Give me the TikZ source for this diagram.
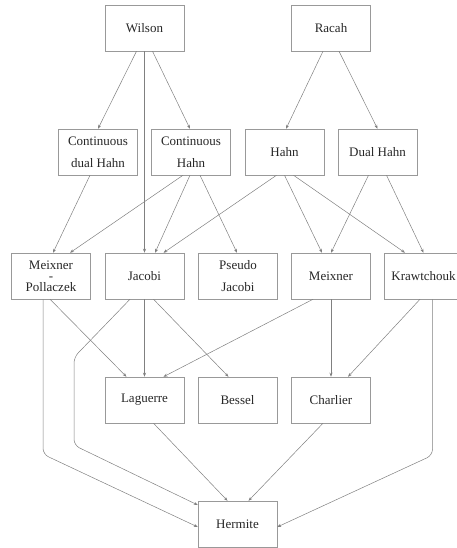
\documentclass[tikz,border=0pt]{standalone}
\usepackage{fontspec}
\setmainfont{Liberation Serif}
\usepackage{tikz}
\usetikzlibrary{arrows.meta}

\begin{document}
\begin{tikzpicture}[x=1pt,y=-1pt]
\tikzstyle{box}=[draw=black!40,line width=0.5pt,minimum width=79pt,minimum height=46pt,inner sep=2pt,align=center,text=black!85,font=\fontsize{13}{22}\selectfont]
\tikzstyle{edge}=[draw=black!50,line width=0.5pt,-{Stealth[length=4pt,width=3pt]}]
\useasboundingbox (0,0) rectangle (456,548);
\foreach \name/\point/\label in {
	wilson/{144.5,28}/Wilson,
	racah/{331,28}/Racah,
	cdhahn/{98,152}/{Continuous\\dual Hahn},
	chahn/{191,152}/{Continuous\\Hahn},
	hahn/{284.5,152}/Hahn,
	dhahn/{377.5,152}/{Dual Hahn},
	mp/{51,276}/{Meixner\\[-11pt]-\\[-11pt]Pollaczek},
	jacobi/{144.5,276}/Jacobi,
	pjacobi/{238,276}/{Pseudo\\Jacobi},
	meixner/{331,276}/Meixner,
	kraw/{423.5,276}/Krawtchouk,
	laguerre/{144.5,400}/Laguerre,
	bessel/{237.5,400}/Bessel,
	charlier/{331,400}/Charlier,
	hermite/{237.5,524}/Hermite}
	\node[box] (\name) at (\point) {\label};
% top row
\draw[edge] ([xshift=-8pt]wilson.south) -- (cdhahn.north);
\draw[edge] (wilson.south) -- (jacobi.north);
\draw[edge] ([xshift=8pt]wilson.south) -- ([xshift=-1pt]chahn.north);
\draw[edge] ([xshift=-8pt]racah.south) -- ([xshift=1.5pt]hahn.north);
\draw[edge] ([xshift=8pt]racah.south) -- (dhahn.north);
% second row
\draw[edge] ([xshift=-8pt]cdhahn.south) -- ([xshift=2pt]mp.north);
\draw[edge] ([xshift=-8pt]chahn.south) -- ([xshift=19pt]mp.north);
\draw[edge] ([xshift=-1pt]chahn.south) -- ([xshift=10.5pt]jacobi.north);
\draw[edge] ([xshift=9pt]chahn.south) -- ([xshift=-1pt]pjacobi.north);
\draw[edge] ([xshift=-8pt]hahn.south) -- ([xshift=19pt]jacobi.north);
\draw[edge] (hahn.south) -- ([xshift=-9pt]meixner.north);
\draw[edge] ([xshift=9pt]hahn.south) -- ([xshift=-18.5pt]kraw.north);
\draw[edge] ([xshift=-9pt]dhahn.south) -- (meixner.north);
\draw[edge] ([xshift=9pt]dhahn.south) -- (kraw.north);
% third row
\draw[edge] ([xshift=-1pt]mp.south) -- ([xshift=-18pt]laguerre.north);
\draw[edge,rounded corners=6pt] ([xshift=-8pt]mp.south) -- ++(0,155) -- ([yshift=-3pt]hermite.west);
\draw[edge,rounded corners=6pt] ([xshift=-14.5pt]jacobi.south) -- ++(-56,58) -- ++(0,88) -- ([yshift=19pt]hermite.west);
\draw[edge] (jacobi.south) -- (laguerre.north);
\draw[edge] ([xshift=9pt]jacobi.south) -- ([xshift=-9pt]bessel.north);
\draw[edge] ([xshift=-18pt]meixner.south) -- ([xshift=19pt]laguerre.north);
\draw[edge] (meixner.south) -- (charlier.north);
\draw[edge] ([xshift=-3.5pt]kraw.south) -- ([xshift=17pt]charlier.north);
\draw[edge,rounded corners=6pt] ([xshift=9pt]kraw.south) -- ++(0,156) -- ([yshift=-3pt]hermite.east);
% bottom row
\draw[edge] ([xshift=9pt]laguerre.south) -- ([xshift=-10pt]hermite.north);
\draw[edge] ([xshift=-8pt]charlier.south) -- ([xshift=11pt]hermite.north);
\end{tikzpicture}
\end{document}
